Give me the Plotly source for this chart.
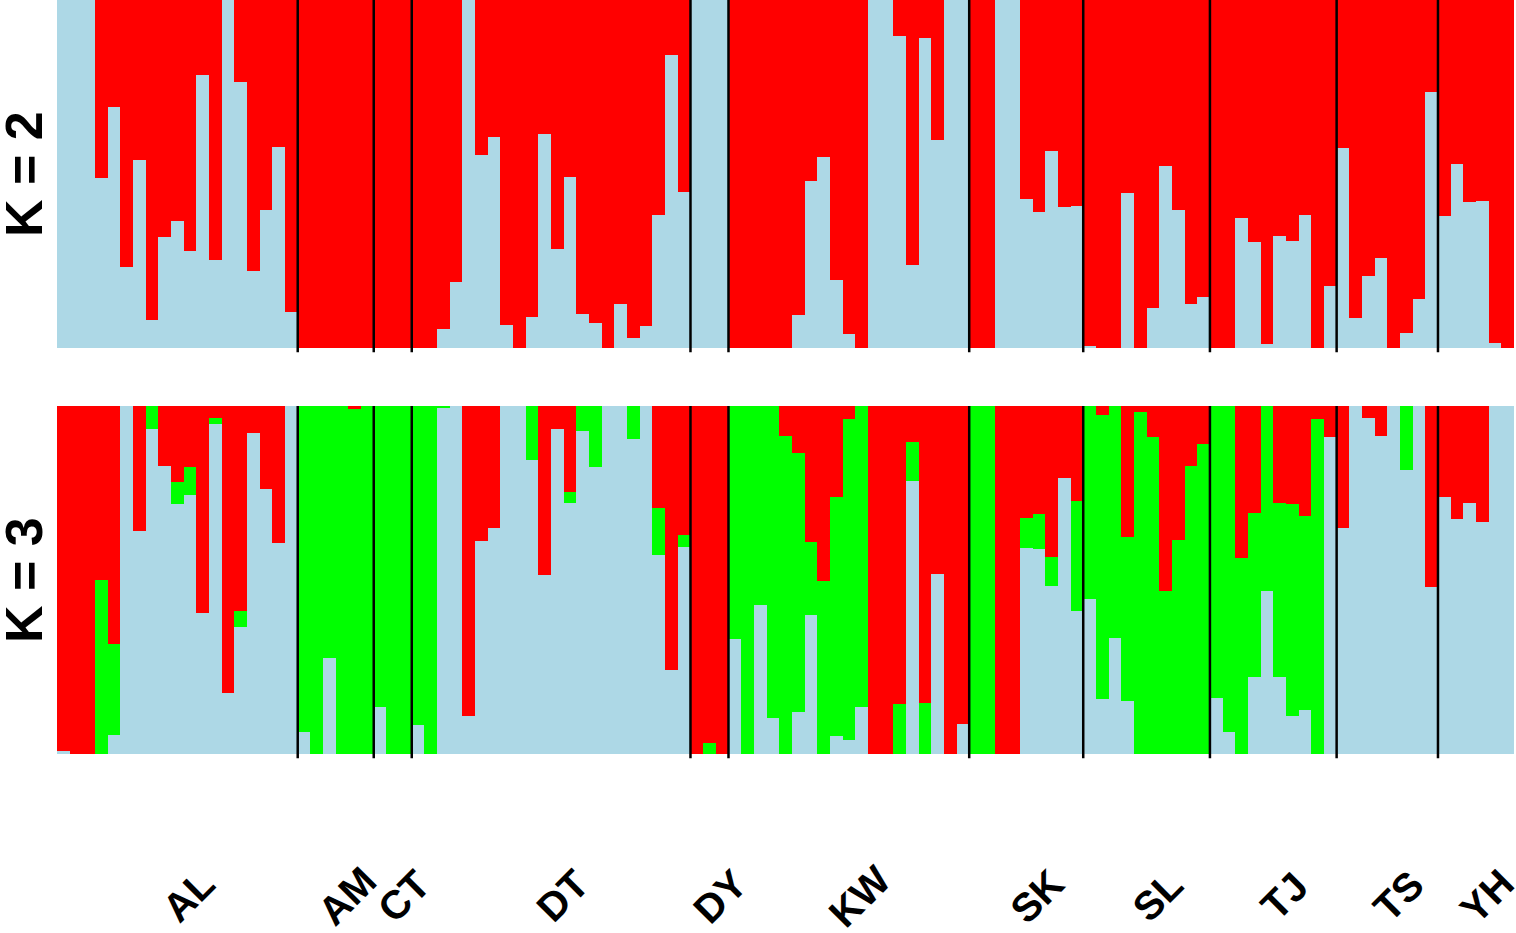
import plotly.graph_objects as go

# population order and number of individuals per population
populations = ["AL", "AM", "CT", "DT", "DY", "KW", "SK", "SL", "TJ", "TS", "YH"]
pop_sizes = [19, 6, 3, 22, 3, 19, 9, 10, 10, 8, 6]

# K = 2 : membership in the light blue cluster (red is the remainder)
k2_blue = [
    # AL
    1, 1, 1, 0.488, 0.692, 0.232, 0.540, 0.080, 0.318, 0.366, 0.280, 0.785, 0.253, 1, 0.765, 0.222, 0.397, 0.578, 0.104,
    # AM
    0, 0, 0, 0, 0, 0,
    # CT
    0, 0, 0,
    # DT
    0, 0, 0.054, 0.190, 1, 0.556, 0.605, 0.065, 0, 0.090, 0.616, 0.284, 0.490, 0.097, 0.073, 0, 0.127, 0.030, 0.062,
    0.383, 0.841, 0.449,
    # DY
    1, 1, 1,
    # KW
    0, 0, 0, 0, 0, 0.094, 0.480, 0.548, 0.195, 0.039, 0, 1, 1, 0.896, 0.238, 0.890, 0.598, 1, 1,
    # SK
    0, 0, 1, 1, 0.428, 0.392, 0.566, 0.404, 0.407,
    # SL
    0.007, 0, 0, 0.444, 0, 0.114, 0.524, 0.398, 0.127, 0.148,
    # TJ
    0, 0, 0.373, 0.305, 0.012, 0.323, 0.308, 0.383, 0, 0.179,
    # TS
    0.574, 0.087, 0.208, 0.258, 0, 0.042, 0.141, 0.737,
    # YH
    0.378, 0.530, 0.420, 0.422, 0.015, 0,
]

# K = 3 : light blue and green memberships (red is the remainder)
k3_blue = [
    # AL
    0.008, 0, 0, 0, 0.056, 1, 0.641, 0.934, 0.827, 0.718, 0.743, 0.404, 0.948, 0.174, 0.365, 0.921, 0.761, 0.605, 1,
    # AM
    0.062, 0, 0.276, 0, 0, 0,
    # CT
    0.135, 0, 0,
    # DT
    0.082, 0, 0.993, 1, 0.110, 0.612, 0.650, 1, 1, 0.845, 0.514, 0.935, 0.720, 0.928, 0.825, 1, 1, 0.905, 1,
    0.573, 0.242, 0.595,
    # DY
    0, 0, 0,
    # KW
    0.331, 0, 0.427, 0.103, 0, 0.122, 0.400, 0, 0.051, 0.041, 0.135, 0, 0, 0, 0.785, 0, 0.516, 0, 0.085,
    # SK
    0, 0, 0, 0, 0.592, 0.589, 0.484, 0.792, 0.410,
    # SL
    0.446, 0.159, 0.333, 0.151, 0, 0, 0, 0, 0, 0,
    # TJ
    0.161, 0.062, 0, 0.221, 0.469, 0.221, 0.108, 0.126, 0, 0.910,
    # TS
    0.650, 1, 0.965, 0.914, 1, 0.816, 1, 0.481,
    # YH
    0.738, 0.674, 0.722, 0.668, 1, 1,
]
k3_green = [
    # AL
    0, 0, 0, 0.500, 0.260, 0, 0, 0.066, 0, 0.065, 0.081, 0, 0.017, 0, 0.047, 0, 0, 0, 0,
    # AM
    0.938, 1, 0.724, 1, 0.991, 1,
    # CT
    0.865, 1, 1,
    # DT
    0.918, 1, 0.007, 0, 0, 0, 0, 0, 0, 0.155, 0, 0, 0.033, 0.072, 0.175, 0, 0, 0.095, 0, 0.133, 0, 0.033,
    # DY
    0, 0.033, 0,
    # KW
    0.669, 1, 0.573, 0.897, 0.914, 0.742, 0.208, 0.496, 0.687, 0.921, 0.865, 0, 0, 0.144, 0.113, 0.147, 0, 0, 0,
    # SK
    1, 1, 0, 0, 0.086, 0.102, 0.082, 0, 0.316,
    # SL
    0.554, 0.814, 0.667, 0.474, 0.983, 0.910, 0.469, 0.615, 0.827, 0.892,
    # TJ
    0.839, 0.938, 0.564, 0.471, 0.531, 0.500, 0.609, 0.559, 0.963, 0,
    # TS
    0, 0, 0, 0, 0, 0.184, 0, 0,
    # YH
    0, 0, 0, 0, 0, 0,
]

BLUE = "#ADD8E6"
RED = "#FF0000"
GREEN = "#00FF00"

n = len(k2_blue)
idx = list(range(n))
k2_red = [1 - b for b in k2_blue]
k3_red = [max(0.0, 1 - b - g) for b, g in zip(k3_blue, k3_green)]

W, H = 1516, 933
fig = go.Figure()


def add_bar(y, color, xa, ya):
    fig.add_trace(go.Bar(x=idx, y=y, marker=dict(color=color, line=dict(width=0)),
                         xaxis=xa, yaxis=ya, showlegend=False, hoverinfo="skip"))


add_bar(k2_blue, BLUE, "x", "y")
add_bar(k2_red, RED, "x", "y")
add_bar(k3_blue, BLUE, "x2", "y2")
add_bar(k3_green, GREEN, "x2", "y2")
add_bar(k3_red, RED, "x2", "y2")

xdom = [57 / W, 1514 / W]
top_dom = [1 - 348 / H, 1.0]
bot_dom = [1 - 754 / H, 1 - 406 / H]

ax = dict(range=[-0.5, n - 0.5], showticklabels=False, showgrid=False, zeroline=False,
          showline=False, ticks="", domain=xdom)
ay = dict(range=[0, 1], showticklabels=False, showgrid=False, zeroline=False,
          showline=False, ticks="")

# population separators
bounds = []
c = 0
for s in pop_sizes[:-1]:
    c += s
    bounds.append(c - 0.5)

shapes = []
for yref in ["y domain", "y2 domain"]:
    xref = "x" if yref == "y domain" else "x2"
    for b in bounds:
        shapes.append(dict(type="line", xref=xref, yref=yref, x0=b, x1=b, y0=-0.012, y1=1,
                           line=dict(color="black", width=2.5)))

annotations = []
c = 0
for name, s in zip(populations, pop_sizes):
    centre = c + (s - 1) / 2
    c += s
    annotations.append(dict(text=name, xref="x2", yref="paper", x=centre, y=1 - 896 / H,
                            xanchor="center", yanchor="middle", textangle=-45, xshift=11,
                            showarrow=False,
                            font=dict(family="Liberation Sans, Arial", size=40, color="black",
                                      weight="bold")))

for label, ypix in [("K = 2", 174), ("K = 3", 580)]:
    annotations.append(dict(text=label, xref="paper", yref="paper", x=24 / W, y=1 - ypix / H,
                            xanchor="center", yanchor="middle", textangle=-90, showarrow=False,
                            font=dict(family="Liberation Sans, Arial", size=52, color="black",
                                      weight="bold")))

fig.update_layout(
    width=W, height=H,
    margin=dict(l=0, r=0, t=0, b=0),
    barmode="stack", bargap=0,
    paper_bgcolor="white", plot_bgcolor="white",
    xaxis=dict(ax, anchor="y"),
    yaxis=dict(ay, domain=top_dom, anchor="x"),
    xaxis2=dict(ax, anchor="y2"),
    yaxis2=dict(ay, domain=bot_dom, anchor="x2"),
    shapes=shapes,
    annotations=annotations,
)

# drop the default page margin so the figure sits at the window's corner
fig.write_html("out.html", config={"displayModeBar": False},
               post_script="document.body.style.margin='0';")
